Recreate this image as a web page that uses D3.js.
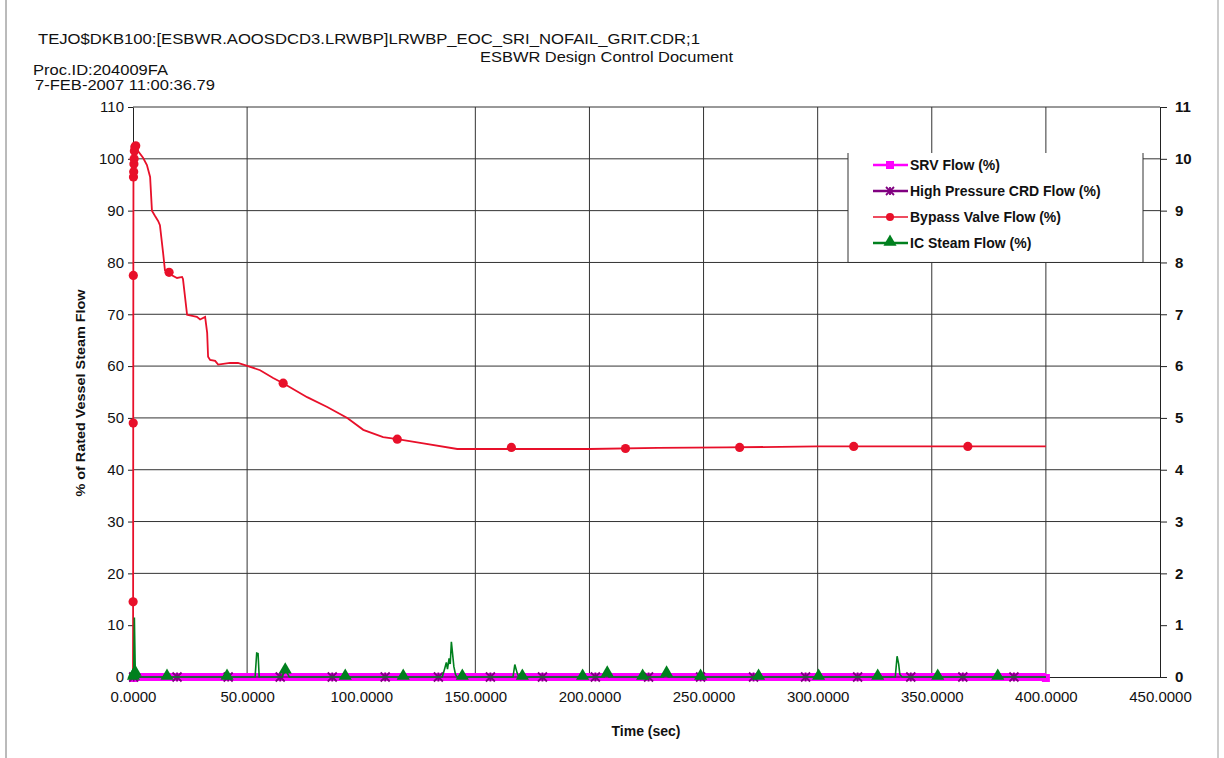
<!DOCTYPE html>
<html><head><meta charset="utf-8">
<script src="https://cdn.jsdelivr.net/npm/d3@7"></script>
<style>
body{margin:0;background:#fff;}
svg text{font-family:"Liberation Sans",Arial,sans-serif;fill:#111;}
</style></head>
<body><svg id="c" width="1224" height="758"></svg>
<script>
// ---------- DATA ----------
const xTicks = [0,50,100,150,200,250,300,350,400,450];
const yLeftTicks = [0,10,20,30,40,50,60,70,80,90,100,110];
const yRightTicks = [0,1,2,3,4,5,6,7,8,9,10,11];
const xGrid = [50,150,200,250,300,350,400];
const yGrid = [20,30,40,50,60,70,80,90,100];
const seriesNames = ["SRV Flow (%)","High Pressure CRD Flow (%)","Bypass Valve Flow (%)","IC Steam Flow (%)"];

// Bypass valve flow (%) vs time (s)
const bypassT = [0,0.05,0.1,0.15,0.2,0.3,0.4,0.5,0.6,0.8,1.2,2.2,4.4,6.1,7.5,8.3,9.6,11,11.8,13.2,14,15.8,19.3,21.5,21.9,23.7,28,29.4,31.6,32.5,32.9,33.8,36,37.3,42.5,46,50.4,55.7,61.4,65.8,76.3,85.1,93.9,100.9,109.6,115.8,127.2,142.1,156.6,180,200,230,260,300,350,400];
const bypassV = [0,14.5,49,77.5,96.5,97.5,99,100,101.5,102.3,102.5,101.5,100.2,98.8,96.5,90,89,88,87.2,81.8,78.5,77.8,77,77.2,76.8,69.9,69.5,69,69.5,66.4,61.8,61.2,61,60.3,60.6,60.6,60,59.2,57.7,56.7,54,52.1,50,47.7,46.3,45.9,45.1,44,44,44,44,44.2,44.3,44.5,44.5,44.5];
const bypassMarkT = [0.05,0.1,0.15,0.2,0.3,0.4,0.5,0.6,0.8,1.2,15.8,65.8,115.8,165.8,215.8,265.8,315.8,365.8];
const bypassMarkV = [14.5,49,77.5,96.5,97.5,99,100,101.5,102.3,102.5,78.1,56.7,45.9,44.3,44.1,44.3,44.5,44.5];

// IC steam flow (%)
const icT = [0,0.3,0.6,1.0,1.5,3,53.5,54.2,54.8,55.3,65.5,66.3,67.5,68.5,135.5,136.5,137.3,137.8,138.5,139,139.5,140,140.6,141.3,142,166.5,167.3,167.8,168.3,169,206.5,207.5,208.5,232.5,233.5,234.5,334,334.8,335.5,336,337,400];
const icV = [0,0.3,11.5,1,0.5,0,0,4.6,4.5,0,0,1.6,0.8,0,0,1.5,2.8,1.5,3.6,2.5,6.8,4.6,2,0.5,0,0,2.4,1.6,0.8,0,0,1.2,0,0,1,0,0,4,2.5,0.5,0,0];
const icMarkT = [0.2,0.5,0.9,14.9,41.2,66.7,93,118.4,144.3,170.6,197,207.8,223.3,233.8,248.7,274.1,300.4,326.3,352.6,378.9];
const icMarkV = [0,0.4,0.8,0,0,1.2,0,0,0,0,0,0.6,0,0.6,0,0,0,0,0,0];

// SRV flow (%) and High pressure CRD flow (%)
const srvT = [0,400];
const srvV = [0,0];
const srvMarkT = [0,400];
const crdT = [0,400];
const crdV = [0,0];
const crdMarkT = [0.3,19.3,41.7,64.5,87.3,110.5,133.8,156.6,179.4,202.6,225.9,248.7,271.9,294.7,317.5,340.8,363.6,386];

// ---------- CHART ----------
const svg = d3.select("#c");
const x = d3.scaleLinear().domain([0,450]).range([133,1160]);
const yL = d3.scaleLinear().domain([0,110]).range([677,107]);
const yR = d3.scaleLinear().domain([0,11]).range([677,107]);
const C = {srv:"#ff00ff", crd:"#800080", byp:"#e8102a", ic:"#00801e"};

// page border lines
svg.append("line").attr("x1",6).attr("x2",6).attr("y1",0).attr("y2",758).attr("stroke","#777");
svg.append("line").attr("x1",1218).attr("x2",1218).attr("y1",0).attr("y2",758).attr("stroke","#999");

// header
svg.append("text").attr("x",38).attr("y",44).attr("font-size",15).attr("textLength",662).attr("lengthAdjust","spacingAndGlyphs")
  .text("TEJO$DKB100:[ESBWR.AOOSDCD3.LRWBP]LRWBP_EOC_SRI_NOFAIL_GRIT.CDR;1");
svg.append("text").attr("x",480).attr("y",62).attr("font-size",15).attr("textLength",253).attr("lengthAdjust","spacingAndGlyphs")
  .text("ESBWR Design Control Document");
svg.append("text").attr("x",33).attr("y",75).attr("font-size",15).attr("textLength",135).attr("lengthAdjust","spacingAndGlyphs").text("Proc.ID:204009FA");
svg.append("text").attr("x",35).attr("y",90).attr("font-size",15).attr("textLength",180).attr("lengthAdjust","spacingAndGlyphs").text("7-FEB-2007 11:00:36.79");

// gridlines
const g = svg.append("g");
g.selectAll(".gx").data(xGrid).join("line").attr("x1",d=>x(d)).attr("x2",d=>x(d)).attr("y1",yL(110)).attr("y2",yL(0)).attr("stroke","#333").attr("stroke-width",1);
g.selectAll(".gy").data(yGrid).join("line").attr("x1",x(0)).attr("x2",x(450)).attr("y1",d=>yL(d)).attr("y2",d=>yL(d)).attr("stroke","#333").attr("stroke-width",1);
g.append("line").attr("x1",x(0)).attr("x2",x(450)).attr("y1",yL(110)).attr("y2",yL(110)).attr("stroke","#333");

// axes
const axL = svg.append("g").attr("transform",`translate(${x(0)},0)`)
  .call(d3.axisLeft(yL).tickValues(yLeftTicks).tickSize(5).tickSizeOuter(0).tickPadding(4).tickFormat(d3.format("d")));
const axR = svg.append("g").attr("transform",`translate(${x(450)},0)`)
  .call(d3.axisRight(yR).tickValues(yRightTicks).tickSize(7).tickSizeOuter(0).tickPadding(8).tickFormat(d3.format("d")));
const axB = svg.append("g").attr("transform",`translate(0,${yL(0)})`)
  .call(d3.axisBottom(x).tickValues(xTicks).tickSize(0).tickSizeOuter(0).tickPadding(14).tickFormat(d3.format(".4f")));
[axL,axR,axB].forEach(a=>{
  a.selectAll("path").attr("stroke","#222");
  a.selectAll("line").attr("stroke","#222");
  a.selectAll("text").attr("font-size",15).attr("fill","#111").attr("font-family","Liberation Sans, Arial");
});
axR.selectAll("text").attr("font-weight","bold");

// axis titles
svg.append("text").attr("x",646).attr("y",736).attr("text-anchor","middle").attr("font-size",14).attr("font-weight","bold").text("Time (sec)");
svg.append("text").attr("transform",`translate(85,${yL(54.8)}) rotate(-90)`).attr("text-anchor","middle").attr("font-size",13).attr("font-weight","bold")
  .attr("textLength",207).attr("lengthAdjust","spacingAndGlyphs").text("% of Rated Vessel Steam Flow");

const line = d3.line().x(d=>x(d[0])).y(d=>yL(d[1]));
const zip = (a,b)=>a.map((t,i)=>[t,b[i]]);
const plot = svg.append("g");

// SRV
plot.append("path").datum(zip(srvT,srvV)).attr("d",line).attr("fill","none").attr("stroke",C.srv).attr("stroke-width",8);
plot.selectAll(".srvm").data(srvMarkT).join("rect").attr("x",d=>x(d)-4).attr("y",yL(0)-3).attr("width",8).attr("height",8).attr("fill",C.srv);
// CRD
plot.append("path").datum(zip(crdT,crdV)).attr("d",line).attr("fill","none").attr("stroke",C.crd).attr("stroke-width",1.5);
const xMark = (sel,cx,cy,s,col)=>{
  sel.append("path").attr("d",`M${cx-s},${cy-s}L${cx+s},${cy+s}M${cx-s},${cy+s}L${cx+s},${cy-s}M${cx},${cy-s}L${cx},${cy+s}`).attr("stroke",col).attr("stroke-width",1.8).attr("fill","none");
};
crdMarkT.forEach(t=>xMark(plot,x(t),yL(0),4.5,C.crd));
// Bypass
plot.append("path").datum(zip(bypassT,bypassV)).attr("d",line).attr("fill","none").attr("stroke",C.byp).attr("stroke-width",1.8);
plot.selectAll(".bm").data(zip(bypassMarkT,bypassMarkV)).join("circle").attr("cx",d=>x(d[0])).attr("cy",d=>yL(d[1])).attr("r",4.6).attr("fill",C.byp);
// IC
plot.append("path").datum(zip(icT,icV)).attr("d",line).attr("fill","none").attr("stroke",C.ic).attr("stroke-width",1.6);
const tri = d3.symbol().type(d3.symbolTriangle).size(75);
plot.selectAll(".im").data(zip(icMarkT,icMarkV)).join("path").attr("d",tri).attr("transform",d=>`translate(${x(d[0])},${yL(d[1])-1})`).attr("fill",C.ic);

// legend
const lg = svg.append("g");
lg.append("rect").attr("x",848).attr("y",153).attr("width",295).attr("height",109).attr("fill","#fff");
lg.append("line").attr("x1",848).attr("x2",848).attr("y1",153).attr("y2",262).attr("stroke","#333");
lg.append("line").attr("x1",1143).attr("x2",1143).attr("y1",153).attr("y2",262).attr("stroke","#333");
lg.append("line").attr("x1",848).attr("x2",1143).attr("y1",yL(80)).attr("y2",yL(80)).attr("stroke","#333");
const cols = [C.srv,C.crd,C.byp,C.ic];
const ly = [165,191,217,243];
seriesNames.forEach((n,i)=>{
  const yy = ly[i];
  lg.append("line").attr("x1",873).attr("x2",908).attr("y1",yy).attr("y2",yy).attr("stroke",cols[i]).attr("stroke-width",i===2?1.5:2.5);
  if(i===0) lg.append("rect").attr("x",886).attr("y",yy-4).attr("width",8).attr("height",8).attr("fill",cols[i]);
  if(i===1) xMark(lg,890,yy,4,cols[i]);
  if(i===2) lg.append("circle").attr("cx",890).attr("cy",yy).attr("r",4).attr("fill",cols[i]);
  if(i===3) lg.append("path").attr("d",tri).attr("transform",`translate(890,${yy-1})`).attr("fill",cols[i]);
  lg.append("text").attr("x",910).attr("y",yy+5).attr("font-size",14).attr("font-weight","bold").attr("fill","#111").text(n);
});
</script></body></html>
